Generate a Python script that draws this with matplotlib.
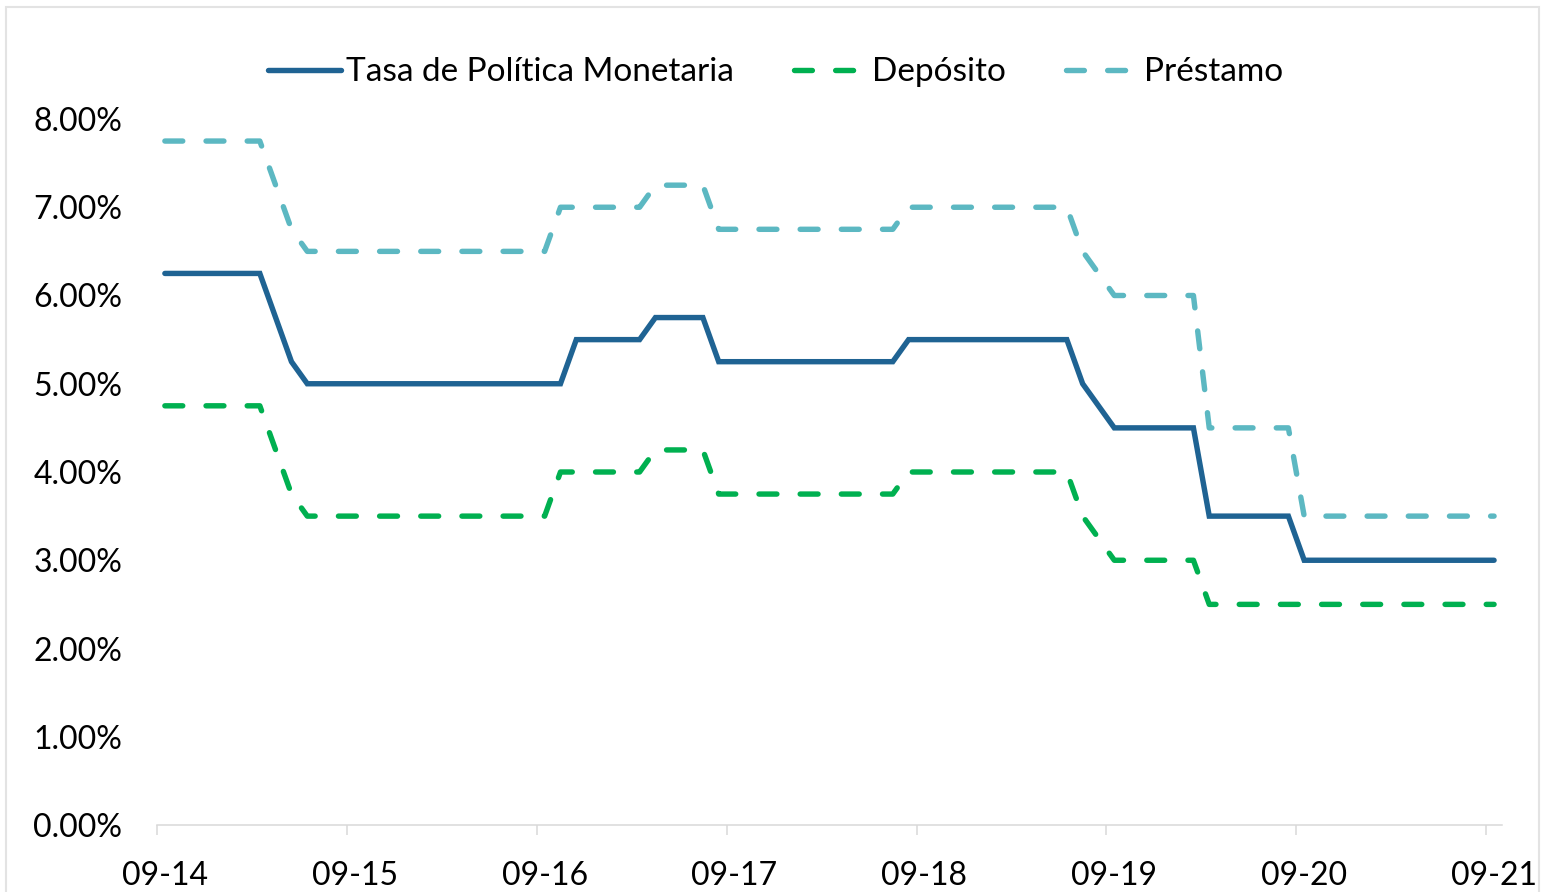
""" Tasas de politica monetaria, deposito y prestamo (mensual, 09-14 a 09-21) """

import matplotlib
matplotlib.use("Agg")
import matplotlib.pyplot as plt
from matplotlib.patches import Rectangle
from matplotlib.ticker import FuncFormatter

plt.rcParams["font.family"] = ["Lato", "DejaVu Sans"]

# meses desde 09-14 hasta 09-21
years = ["14", "15", "16", "17", "18", "19", "20", "21"]
months = []
for y in years:
    for m in range(1, 13):
        months.append("%02d-%s" % (m, y))
months = months[months.index("09-14"):months.index("09-21") + 1]

tpm = [
    6.25, 6.25, 6.25, 6.25, 6.25, 6.25, 6.25, 5.75, 5.25, 5.00, 5.00, 5.00,
    5.00, 5.00, 5.00, 5.00, 5.00, 5.00, 5.00, 5.00, 5.00, 5.00, 5.00, 5.00,
    5.00, 5.00, 5.50, 5.50, 5.50, 5.50, 5.50, 5.75, 5.75, 5.75, 5.75, 5.25,
    5.25, 5.25, 5.25, 5.25, 5.25, 5.25, 5.25, 5.25, 5.25, 5.25, 5.25, 5.50,
    5.50, 5.50, 5.50, 5.50, 5.50, 5.50, 5.50, 5.50, 5.50, 5.50, 5.00, 4.75,
    4.50, 4.50, 4.50, 4.50, 4.50, 4.50, 3.50, 3.50, 3.50, 3.50, 3.50, 3.50,
    3.00, 3.00, 3.00, 3.00, 3.00, 3.00, 3.00, 3.00, 3.00, 3.00, 3.00, 3.00,
    3.00,
]

deposito = [
    4.75, 4.75, 4.75, 4.75, 4.75, 4.75, 4.75, 4.25, 3.75, 3.50, 3.50, 3.50,
    3.50, 3.50, 3.50, 3.50, 3.50, 3.50, 3.50, 3.50, 3.50, 3.50, 3.50, 3.50,
    3.50, 4.00, 4.00, 4.00, 4.00, 4.00, 4.00, 4.25, 4.25, 4.25, 4.25, 3.75,
    3.75, 3.75, 3.75, 3.75, 3.75, 3.75, 3.75, 3.75, 3.75, 3.75, 3.75, 4.00,
    4.00, 4.00, 4.00, 4.00, 4.00, 4.00, 4.00, 4.00, 4.00, 4.00, 3.50, 3.25,
    3.00, 3.00, 3.00, 3.00, 3.00, 3.00, 2.50, 2.50, 2.50, 2.50, 2.50, 2.50,
    2.50, 2.50, 2.50, 2.50, 2.50, 2.50, 2.50, 2.50, 2.50, 2.50, 2.50, 2.50,
    2.50,
]

prestamo = [
    7.75, 7.75, 7.75, 7.75, 7.75, 7.75, 7.75, 7.25, 6.75, 6.50, 6.50, 6.50,
    6.50, 6.50, 6.50, 6.50, 6.50, 6.50, 6.50, 6.50, 6.50, 6.50, 6.50, 6.50,
    6.50, 7.00, 7.00, 7.00, 7.00, 7.00, 7.00, 7.25, 7.25, 7.25, 7.25, 6.75,
    6.75, 6.75, 6.75, 6.75, 6.75, 6.75, 6.75, 6.75, 6.75, 6.75, 6.75, 7.00,
    7.00, 7.00, 7.00, 7.00, 7.00, 7.00, 7.00, 7.00, 7.00, 7.00, 6.50, 6.25,
    6.00, 6.00, 6.00, 6.00, 6.00, 6.00, 4.50, 4.50, 4.50, 4.50, 4.50, 4.50,
    3.50, 3.50, 3.50, 3.50, 3.50, 3.50, 3.50, 3.50, 3.50, 3.50, 3.50, 3.50,
    3.50,
]

tick_labels = ["09-14", "09-15", "09-16", "09-17", "09-18", "09-19", "09-20", "09-21"]

colTpm = "#1f6393"
colDep = "#00b050"
colPre = "#5cb8c2"
grey = "#d9d9d9"

fig = plt.figure(figsize=(15.51, 8.92), dpi=100)
ax = fig.add_axes([0.1012, 0.0751, 0.8672, 0.7915])

x = list(range(len(months)))
lw = 3.9
ax.plot(x, tpm, color=colTpm, lw=lw, solid_capstyle="round",
        solid_joinstyle="miter", label="Tasa de Política Monetaria")
ax.plot(x, deposito, color=colDep, lw=lw, dashes=(3.3, 4.3),
        dash_capstyle="round", label="Depósito")
ax.plot(x, prestamo, color=colPre, lw=lw, dashes=(3.3, 4.3),
        dash_capstyle="round", label="Préstamo")

ax.set_xlim(-0.5, len(months) - 0.5)
ax.set_ylim(0, 8)
ax.set_yticks([0, 1, 2, 3, 4, 5, 6, 7, 8])
ax.yaxis.set_major_formatter(FuncFormatter(lambda v, p: "%.2f%%" % v))

# marcas entre categorias, etiquetas en el mes
ax.set_xticks([months.index(t) - 0.5 for t in tick_labels])
ax.set_xticklabels([])
ax.set_xticks([months.index(t) for t in tick_labels], minor=True)
ax.set_xticklabels(tick_labels, minor=True)

for s in ["left", "top", "right"]:
    ax.spines[s].set_visible(False)
ax.spines["bottom"].set_color(grey)
ax.spines["bottom"].set_linewidth(1.1)

ax.tick_params(axis="x", which="major", length=7, width=1.1, color=grey)
ax.tick_params(axis="x", which="minor", length=0, pad=26,
               labelsize=23, labelcolor="black")
ax.tick_params(axis="y", length=0, pad=25, labelsize=23, labelcolor="black")

fig.legend(loc="center", bbox_to_anchor=(0.5, 0.919), ncol=3, frameon=False,
           fontsize=24, handlelength=2.2, handletextpad=0.15, columnspacing=1.8)

# marco del grafico
fig.patches.append(Rectangle((6 / 1551, -0.01), (1539 - 6) / 1551, 885 / 892 + 0.01,
                             transform=fig.transFigure, fill=False,
                             edgecolor="#e3e3e3", lw=1.5))

plt.savefig("out.png", dpi=100)
